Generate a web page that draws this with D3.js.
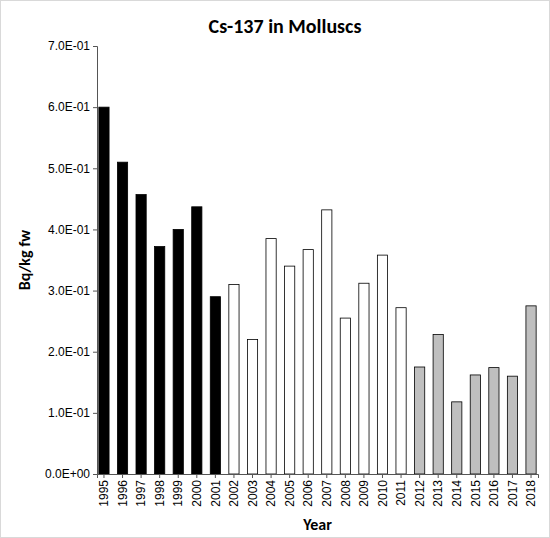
<!DOCTYPE html>
<meta charset="utf-8">
<body style="margin:0">
<div id="chart"></div>
<script src="https://cdn.jsdelivr.net/npm/d3@7"></script>
<script>
var years = d3.range(1995, 2019).map(String);
var values = [0.60, 0.51, 0.457, 0.372, 0.40, 0.437, 0.29, 0.31, 0.22, 0.385, 0.34, 0.367, 0.432, 0.255, 0.312, 0.358, 0.272, 0.175, 0.228, 0.118, 0.162, 0.174, 0.16, 0.275];
var groups = ["a","a","a","a","a","a","a","b","b","b","b","b","b","b","b","b","b","c","c","c","c","c","c","c"];
var fills = {a: "#000", b: "#fff", c: "#bfbfbf"};
var yTicks = [0, 0.1, 0.2, 0.3, 0.4, 0.5, 0.6, 0.7];

var W = 550, H = 538, m = {top: 46, right: 12, bottom: 64, left: 97};
var svg = d3.select("#chart").append("svg").attr("width", W).attr("height", H)
	.style("font-family", "Calibri, Carlito, 'Liberation Sans', Arial, sans-serif");
svg.append("rect").attr("x", 0.5).attr("y", 0.5).attr("width", W - 1).attr("height", H - 1)
	.attr("fill", "#fff").attr("stroke", "#d9d9d9");

var x = d3.scaleBand().domain(years).range([m.left, W - m.right]).paddingInner(0.45).paddingOuter(0.1);
var y = d3.scaleLinear().domain([0, 0.7]).range([H - m.bottom, m.top]);

svg.selectAll(".bar").data(values).enter().append("rect")
	.attr("x", function(d, i) { return x(years[i]); })
	.attr("y", function(d) { return y(d); })
	.attr("width", x.bandwidth())
	.attr("height", function(d) { return y(0) - y(d); })
	.attr("fill", function(d, i) { return fills[groups[i]]; })
	.attr("stroke", "#000").attr("stroke-width", 0.8);

var ya = svg.append("g").attr("transform", "translate(" + m.left + ",0)")
	.call(d3.axisLeft(y).tickValues(yTicks).tickSize(4).tickFormat(function(d) { return d.toExponential(1).replace("e-", "E-0").replace("e+", "E+0"); }));
var xa = svg.append("g").attr("transform", "translate(0," + (H - m.bottom) + ")")
	.call(d3.axisBottom(x).tickSize(4));
xa.selectAll("text").attr("transform", "rotate(-90)").attr("text-anchor", "end")
	.attr("x", -6).attr("y", 0).attr("dy", "0.35em");
svg.selectAll(".domain, .tick line").attr("stroke", "#555");
svg.selectAll(".tick text").attr("font-size", 12).attr("font-family", "inherit").attr("fill", "#000");

svg.append("text").attr("x", W / 2 + 10).attr("y", 33).attr("text-anchor", "middle")
	.attr("font-size", 20).attr("font-weight", "bold").text("Cs-137 in Molluscs");
svg.append("text").attr("x", (m.left + W - m.right) / 2).attr("y", H - 8).attr("text-anchor", "middle")
	.attr("font-size", 16).attr("font-weight", "bold").text("Year");
svg.append("text").attr("transform", "translate(30," + ((m.top + H - m.bottom) / 2) + ") rotate(-90)")
	.attr("text-anchor", "middle").attr("font-size", 16).attr("font-weight", "bold").text("Bq/kg fw");
</script>
</body>
